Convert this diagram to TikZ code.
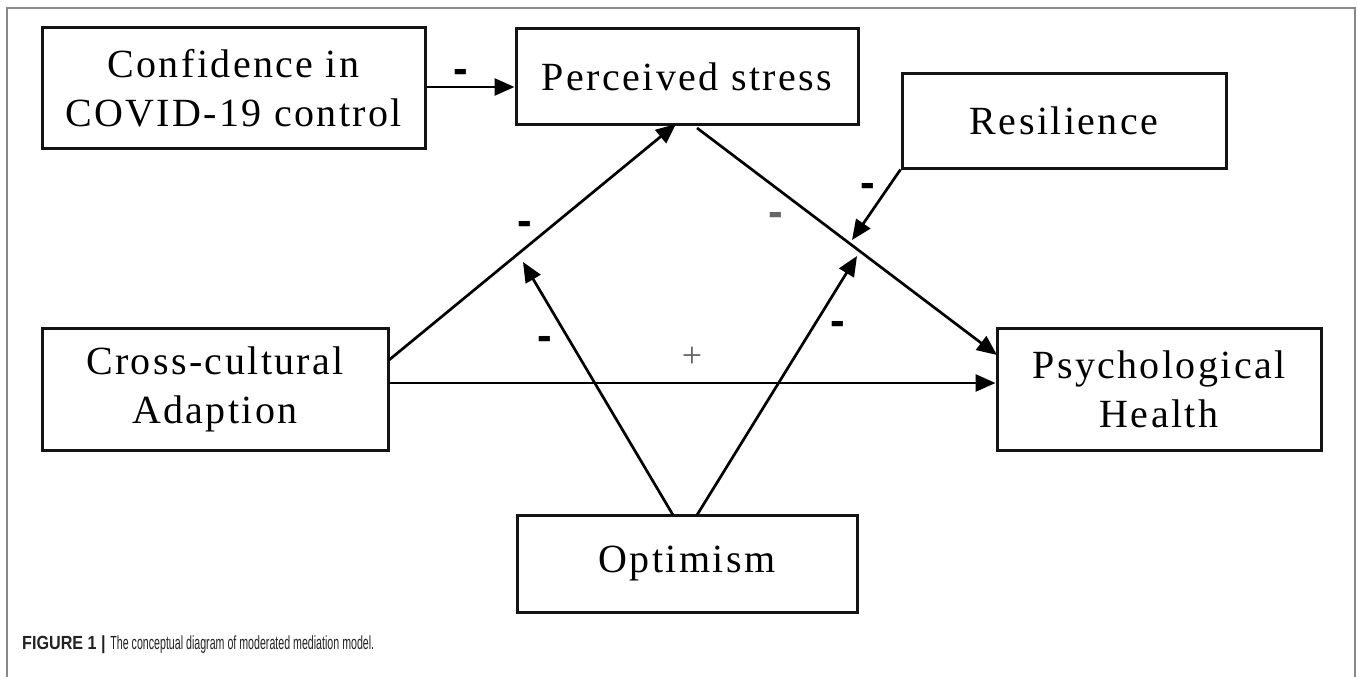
\documentclass[tikz,border=0pt]{standalone}
\usepackage{fontspec}
\setmainfont{Liberation Serif}
\newfontfamily\boxfont[LetterSpace=6]{Liberation Serif}
\newfontfamily\capboldfont[FakeStretch=0.85]{Liberation Sans}
\newfontfamily\capregfont[FakeStretch=0.56]{Liberation Sans}
\newfontfamily\signfont{Liberation Sans}
\usetikzlibrary{arrows.meta}
\definecolor{framegray}{HTML}{888888}
\definecolor{signgray}{HTML}{666666}
\definecolor{capgray}{HTML}{222222}
\begin{document}
\begin{tikzpicture}[x=1pt,y=-1pt,
  box/.style={draw=black!92, line width=3pt, inner sep=0pt, align=center,
    font=\boxfont\fontsize{40}{49}\selectfont},
  conn/.style={line width=2.7pt, -{Triangle[length=20pt,width=17pt]}},
  sign/.style={font=\signfont\bfseries\fontsize{44}{44}\selectfont, inner sep=0pt, anchor=base},
  framel/.style={draw=framegray, line width=1.6pt}]
\useasboundingbox (0,0) rectangle (1357,677);
% frame
\draw[framel] (7,677) -- (7,8) -- (1355,8) -- (1355,677);
% boxes
\node[box, minimum width=383pt, minimum height=120pt] (conf) at (233.5,88) {Confidence in\\COVID-19 control};
\node[box, minimum width=342pt, minimum height=95pt] (stress) at (687,76.5) {Perceived stress};
\node[box, minimum width=324pt, minimum height=94pt] (resil) at (1064,121) {Resilience};
\node[box, minimum width=346pt, minimum height=122pt] (cross) at (215,389) {Cross-cultural\\Adaption};
\node[box, minimum width=324pt, minimum height=122pt] (psych) at (1159,389) {Psychological\\Health};
\node[box, minimum width=340pt, minimum height=97pt] (optim) at (687,563.5) {Optimism};
% connector end points
\coordinate (crossOutA) at (389,360);
\coordinate (crossOutB) at (389,383);
\coordinate (stressIn) at (676,124);
\coordinate (stressOut) at (697,128);
\coordinate (psychInA) at (997,355);
\coordinate (optOutL) at (673,515);
\coordinate (optOutR) at (697,515);
\coordinate (modL) at (523,262);
\coordinate (modR) at (857,256);
\coordinate (modRes) at (852,240);
% connectors
\draw[conn] (conf.east |- 0,87) -- (stress.west |- 0,87);
\draw[conn] (crossOutA) -- (stressIn);
\draw[conn] (stressOut) -- (psychInA);
\draw[conn] (crossOutB) -- (psych.west |- crossOutB);
\draw[conn] (resil.south west) -- (modRes);
\draw[conn] (optOutL) -- (modL);
\draw[conn] (optOutR) -- (modR);
% signs
\node[sign] (s1) at (461,83) {-};
\node[sign] (s2) at (525,235) {-};
\node[sign, text=signgray] (s3) at (776,226) {-};
\node[sign] (s4) at (868,197) {-};
\node[sign] (s5) at (545,350) {-};
\node[sign] (s6) at (838,335) {-};
\node[font=\fontsize{36}{36}\selectfont, text=signgray, inner sep=0pt] (plus) at (692,357) {+};
% caption
\node[anchor=base west, inner sep=0pt, text=capgray, font=\fontsize{19}{19}\selectfont] (cap) at (22,649)
  {{\capboldfont\bfseries FIGURE 1 |} {\capregfont The conceptual diagram of moderated mediation model.}};
\end{tikzpicture}
\end{document}
